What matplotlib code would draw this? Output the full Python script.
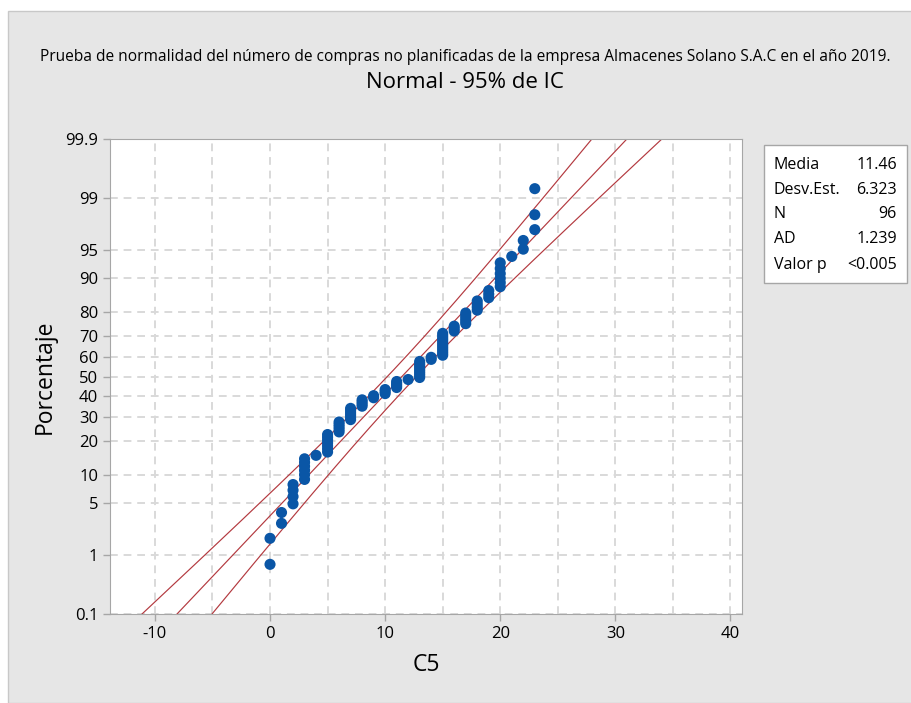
import matplotlib
matplotlib.use("Agg")
import matplotlib.pyplot as plt
from matplotlib.patches import Rectangle
import numpy as np
from statistics import NormalDist

# ---- data ----
values = [0, 1, 2, 3, 4, 5, 6, 7, 8, 9, 10, 11, 12, 13, 14, 15, 16, 17, 18, 19, 20, 21, 22, 23]
counts = [2, 2, 4, 6, 1, 7, 5, 6, 4, 2, 3, 4, 1, 9, 2, 11, 3, 5, 4, 3, 6, 1, 2, 3]
stat_names = ["Media", "Desv.Est.", "N", "AD", "Valor p"]
stat_values = ["11.46", "6.323", "96", "1.239", "<0.005"]
mean_val = 11.46
sd_val = 6.323
pct_ticks = [0.1, 1, 5, 10, 20, 30, 40, 50, 60, 70, 80, 90, 95, 99, 99.9]
pct_labels = ["0.1", "1", "5", "10", "20", "30", "40", "50", "60", "70", "80", "90", "95", "99", "99.9"]
x_ticks = [-10, 0, 10, 20, 30, 40]
x_grid = [-10, -5, 0, 5, 10, 15, 20, 25, 30, 35, 40]

title1 = "Prueba de normalidad del número de compras no planificadas de la empresa Almacenes Solano S.A.C en el año 2019."
title2 = "Normal - 95% de IC"

FONT = ["Open Sans", "DejaVu Sans"]
plt.rcParams["font.family"] = FONT
plt.rcParams["axes.unicode_minus"] = False

nd = NormalDist()
ppf = np.vectorize(nd.inv_cdf)

data = np.sort(np.repeat(values, counts))
n = len(data)
ranks = np.arange(1, n + 1)
pz = ppf((ranks - 0.3) / (n + 0.4))

W, H = 912, 703
fig = plt.figure(figsize=(W / 100, H / 100), dpi=100)
fig.patch.set_facecolor("white")
# gray panel
fig.patches.append(Rectangle((8 / W, 0), 1 - 8 / W, 1 - 11 / H, transform=fig.transFigure,
                             facecolor="#E6E6E6", edgecolor="#C8C8C8", lw=1, zorder=-5))

L, R, T, B = 110, 742, 139, 614
ax = fig.add_axes([L / W, 1 - B / H, (R - L) / W, (B - T) / H])
ax.set_zorder(2)
ax.set_facecolor("white")

zlo, zhi = nd.inv_cdf(0.001), nd.inv_cdf(0.999)
ax.set_ylim(zlo, zhi)
ax.set_xlim(-13.9, 41.0)

# grid
for g in x_grid:
    ax.axvline(g, color="#D9D9D9", lw=1.4, dashes=(4, 3), zorder=1)
for p in pct_ticks:
    ax.axhline(nd.inv_cdf(p / 100), color="#D9D9D9", lw=1.4, dashes=(4, 3), zorder=1)

# fit line and CI
zz = np.linspace(zlo, zhi, 400)
xfit = mean_val + sd_val * zz
se = sd_val * np.sqrt(1 / n + zz ** 2 / (2 * n))
line_col = "#B3393F"
ax.plot(xfit, zz, color=line_col, lw=0.85, zorder=2)
ax.plot(xfit - 1.96 * se, zz, color=line_col, lw=0.85, zorder=2)
ax.plot(xfit + 1.96 * se, zz, color=line_col, lw=0.85, zorder=2)

ax.scatter(data, pz, s=64, color="#0A56A6", edgecolors="none", zorder=3)

ax.set_yticks(ppf(np.array(pct_ticks) / 100))
ax.set_yticklabels(pct_labels)
ax.set_xticks(x_ticks)
for s in ax.spines.values():
    s.set_color("#A6A6A6")
ax.tick_params(axis="both", colors="#A6A6A6", labelcolor="black", labelsize=12, length=5, width=1)

ax.set_xlabel("C5", fontsize=16.5, labelpad=8)
ax.set_ylabel("Porcentaje", fontsize=16.5, labelpad=6)

fig.text(0.51, 1 - 57 / H, title1, ha="center", va="center", fontsize=11.2, fontweight="medium")
fig.text(0.51, 1 - 83 / H, title2, ha="center", va="center", fontsize=16)

# stats box
bx0, bx1, by0, by1 = 764, 907, 145, 283
fig.patches.append(Rectangle((bx0 / W, 1 - by1 / H), (bx1 - bx0) / W, (by1 - by0) / H,
                             transform=fig.transFigure, facecolor="white", edgecolor="#A6A6A6", lw=1, zorder=1))
rows_y = [165, 190, 214, 239, 265]
for name, val, yy in zip(stat_names, stat_values, rows_y):
    fig.text(774 / W, 1 - yy / H, name, ha="left", va="center", fontsize=11.5)
    fig.text(897 / W, 1 - yy / H, val, ha="right", va="center", fontsize=11.5)

fig.savefig("out.png", dpi=100, facecolor=fig.get_facecolor())
